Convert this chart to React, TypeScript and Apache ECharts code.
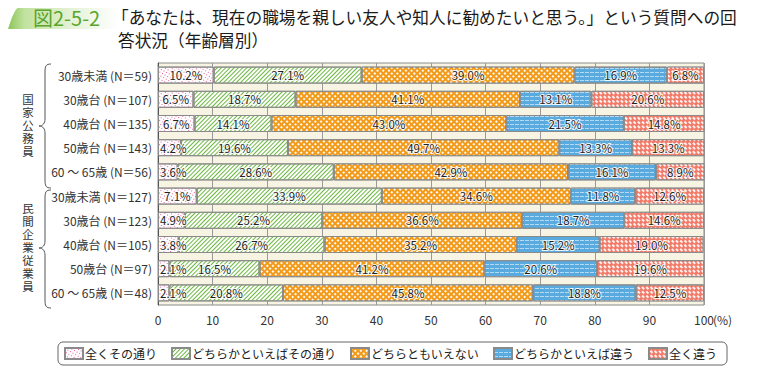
import React, { useEffect, useRef } from "react";
import * as echarts from "echarts";

const categories = [
  "30歳未満 (N＝59)",
  "30歳台 (N＝107)",
  "40歳台 (N＝135)",
  "50歳台 (N＝143)",
  "60 ～ 65歳 (N＝56)",
  "30歳未満 (N＝127)",
  "30歳台 (N＝123)",
  "40歳台 (N＝105)",
  "50歳台 (N＝97)",
  "60 ～ 65歳 (N＝48)",
];

const seriesNames = ["全くその通り", "どちらかといえばその通り", "どちらともいえない", "どちらかといえば違う", "全く違う"];

const totallyAgree = [10.2, 6.5, 6.7, 4.2, 3.6, 7.1, 4.9, 3.8, 2.1, 2.1];
const somewhatAgree = [27.1, 18.7, 14.1, 19.6, 28.6, 33.9, 25.2, 26.7, 16.5, 20.8];
const neither = [39.0, 41.1, 43.0, 49.7, 42.9, 34.6, 36.6, 35.2, 41.2, 45.8];
const somewhatDisagree = [16.9, 13.1, 21.5, 13.3, 16.1, 11.8, 18.7, 15.2, 20.6, 18.8];
const totallyDisagree = [6.8, 20.6, 14.8, 13.3, 8.9, 12.6, 14.6, 19.0, 19.6, 12.5];

const groupLabels = ["国家公務員", "民間企業従業員"];

const FONT = '"Noto Sans CJK JP", "Noto Sans", sans-serif';
const VFONT = '"Liberation Sans", "Noto Sans CJK JP", sans-serif';

const braceD1 =
  "M51,64 C46,64 45,66 45,72 L45,119 C45,123 43,126 39,126 C43,126 45,129 45,133 L45,180 C45,186 46,188 51,188";
const braceD2 =
  "M51,190 C46,190 45,192 45,198 L45,241 C45,245 43,248 39,248 C43,248 45,251 45,255 L45,300 C45,306 46,308 51,308";
const tabD = "M22,5 L118,5 L118,29 L8,29 C12,18 14,8 22,5 Z";

let registered = false;
function registerShapes() {
  if (registered) return;
  registered = true;
  echarts.graphic.registerShape("brace1", echarts.graphic.extendPath(braceD1, {}) as any);
  echarts.graphic.registerShape("brace2", echarts.graphic.extendPath(braceD2, {}) as any);
  echarts.graphic.registerShape("tab", echarts.graphic.extendPath(tabD, {}) as any);
}

function verticalChars(text: string, cx: number, cy: number, step: number, size: number) {
  const chars = text.split("");
  const start = cy - ((chars.length - 1) * step) / 2;
  return chars.map((c, i) => ({
    type: "text",
    x: cx,
    y: start + i * step,
    style: { text: c, fill: "#333", fontSize: size, fontFamily: VFONT, align: "center", verticalAlign: "middle" },
  }));
}

export default function App() {
  const ref = useRef<HTMLDivElement>(null);
  useEffect(() => {
    if (!ref.current) return;
    registerShapes();
    const chart = echarts.init(ref.current, undefined, { renderer: "svg" });

    const dataSets = [totallyAgree, somewhatAgree, neither, somewhatDisagree, totallyDisagree];
    const colors = ["#ffffff", "#ffffff", "#f39a18", "#58aadf", "#f27a68"];
    const decals: any[] = [
      { symbol: "rect", color: "#ea5a9c", dashArrayX: [1, 2], dashArrayY: [1, 2], symbolSize: 1 },
      { symbol: "rect", color: "#6cb840", dashArrayX: [1, 0], dashArrayY: [1, 2], rotation: -Math.PI / 4, symbolSize: 1 },
      { symbol: "rect", color: "rgba(255,255,255,0.95)", dashArrayX: [2, 2], dashArrayY: [2, 2], symbolSize: 1 },
      { symbol: "rect", color: "rgba(255,255,255,0.55)", dashArrayX: [4, 1], dashArrayY: [1, 3], symbolSize: 1 },
      { symbol: "rect", color: "rgba(255,255,255,0.9)", dashArrayX: [[3, 3], [0, 3, 3, 0]], dashArrayY: [2, 1], symbolSize: 1 },
    ];

    const series = dataSets.map((d, i) => ({
      name: seriesNames[i],
      type: "bar",
      stack: "total",
      data: d.map((v) => (i === 0 && v < 5 ? { value: v, label: { position: "insideLeft", distance: 2 } } : v)),
      barWidth: 17,
      itemStyle: {
        color: colors[i],
        borderColor: "#8a8a8a",
        borderWidth: 1,
        decal: decals[i],
      },
      label: {
        show: true,
        position: "inside",
        formatter: (p: any) => Number(p.value).toFixed(1) + "%",
        color: "#222",
        fontSize: 11.5,
        fontFamily: FONT,
        textBorderColor: "rgba(255,255,255,0.9)",
        textBorderWidth: 2,
      },
      emphasis: { disabled: true },
    }));

    chart.setOption({
      animation: false,
      aria: { enabled: true, decal: { show: true } },
      textStyle: { fontFamily: FONT },
      grid: {
        left: 158,
        right: 56,
        top: 63,
        bottom: 70,
        show: true,
        backgroundColor: "#f8f4e3",
        borderColor: "#8a8a8a",
        borderWidth: 1,
      },
      legend: {
        left: 58,
        top: 342,
        data: seriesNames,
        icon: "rect",
        itemWidth: 18,
        itemHeight: 11,
        itemGap: 14,
        borderColor: "#666",
        borderWidth: 1,
        borderRadius: 5,
        padding: [5, 10, 5, 6],
        textStyle: { fontSize: 12, color: "#222", fontFamily: FONT, padding: [0, 0, 0, -3] },
        selectedMode: false,
      },
      xAxis: {
        type: "value",
        min: 0,
        max: 100,
        interval: 10,
        axisLine: { show: false },
        axisTick: { show: false },
        splitLine: { show: true, lineStyle: { color: "#9a9a9a", width: 1 } },
        axisLabel: { fontSize: 12, color: "#333", fontFamily: FONT, margin: 8 },
      },
      yAxis: {
        type: "category",
        data: categories,
        inverse: true,
        axisLine: { show: true, lineStyle: { color: "#555" } },
        axisTick: { show: false },
        axisLabel: { fontSize: 12, color: "#333", fontFamily: FONT, margin: 6 },
      },
      series,
      graphic: [
        {
          type: "tab",
          style: {
            fill: new echarts.graphic.LinearGradient(0, 0, 1, 0, [
              { offset: 0, color: "#8cc559" },
              { offset: 0.15, color: "#c2e2a0" },
              { offset: 0.6, color: "#e6f3d9" },
              { offset: 1, color: "#ffffff" },
            ]),
          },
        },
        {
          type: "text",
          x: 33,
          y: 17,
          style: { text: "図2-5-2", fill: "#5aa52a", fontSize: 20, fontFamily: FONT, verticalAlign: "middle" },
        },
        {
          type: "text",
          x: 112,
          y: 17,
          style: {
            text: "「あなたは、現在の職場を親しい友人や知人に勧めたいと思う。」という質問への回",
            fill: "#1a1a1a",
            fontSize: 16.7,
            fontFamily: FONT,
            verticalAlign: "middle",
          },
        },
        {
          type: "text",
          x: 118,
          y: 40,
          style: { text: "答状況（年齢層別）", fill: "#1a1a1a", fontSize: 16.7, fontFamily: FONT, verticalAlign: "middle" },
        },
        { type: "brace1", style: { stroke: "#555", fill: "none", lineWidth: 1 } },
        { type: "brace2", style: { stroke: "#555", fill: "none", lineWidth: 1 } },
        ...verticalChars(groupLabels[0], 28, 126, 13, 11.5),
        ...verticalChars(groupLabels[1], 28, 248, 13, 11.5),
        {
          type: "text",
          x: 713,
          y: 319,
          style: { text: "(%)", fill: "#333", fontSize: 12, fontFamily: FONT, verticalAlign: "middle" },
        },
      ],
    });
    return () => chart.dispose();
  }, []);
  return <div ref={ref} style={{ width: 760, height: 375, margin: -8 }} />;
}
